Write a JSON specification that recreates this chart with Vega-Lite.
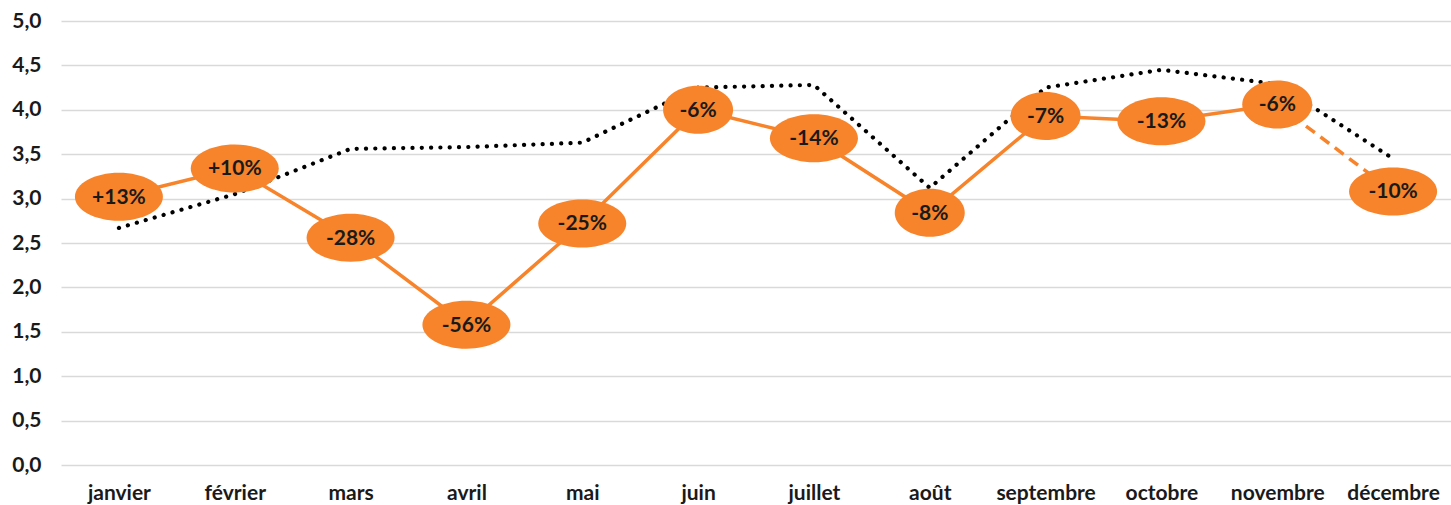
{
  "$schema": "https://vega.github.io/schema/vega-lite/v6.json",
  "width": 1390,
  "height": 444,
  "autosize": "none",
  "padding": {"left": 61, "top": 21, "right": 0, "bottom": 40},
  "background": "white",
  "config": {"view": {"stroke": null}},
  "data": {
    "values": [
      {"month": "janvier", "value": 3.02, "ref": 2.67, "label": "+13%"},
      {"month": "février", "value": 3.34, "ref": 3.05, "label": "+10%"},
      {"month": "mars", "value": 2.56, "ref": 3.56, "label": "-28%"},
      {"month": "avril", "value": 1.58, "ref": 3.58, "label": "-56%"},
      {"month": "mai", "value": 2.72, "ref": 3.63, "label": "-25%"},
      {"month": "juin", "value": 4.0, "ref": 4.25, "label": "-6%"},
      {"month": "juillet", "value": 3.68, "ref": 4.28, "label": "-14%"},
      {"month": "août", "value": 2.84, "ref": 3.12, "label": "-8%"},
      {"month": "septembre", "value": 3.93, "ref": 4.25, "label": "-7%"},
      {"month": "octobre", "value": 3.87, "ref": 4.45, "label": "-13%"},
      {"month": "novembre", "value": 4.06, "ref": 4.29, "label": "-6%"},
      {"month": "décembre", "value": 3.08, "ref": 3.45, "label": "-10%"}
    ]
  },
  "encoding": {
    "x": {
      "field": "month",
      "type": "nominal",
      "scale": {"type": "point", "padding": 0.5, "domain": ["janvier","février","mars","avril","mai","juin","juillet","août","septembre","octobre","novembre","décembre"]},
      "axis": {"title": null, "domain": false, "ticks": false, "grid": false, "labelAngle": 0, "labelFont": "Lato", "labelFontWeight": "bold", "labelFontSize": 21, "labelColor": "#1a1a1a", "labelPadding": 17, "labelOverlap": false}
    }
  },
  "layer": [
    {
      "mark": {"type": "line", "color": "#000000", "strokeWidth": 4.2, "strokeDash": [0.1, 9.2], "strokeCap": "round"},
      "encoding": {
        "y": {
          "field": "ref",
          "type": "quantitative",
          "scale": {"domain": [0, 5], "nice": false},
          "axis": {"title": null, "domain": false, "ticks": false, "values": [0, 0.5, 1, 1.5, 2, 2.5, 3, 3.5, 4, 4.5, 5], "labelExpr": "replace(format(datum.value, '.1f'), '.', ',')", "gridColor": "#d9d9d9", "gridWidth": 1.5, "labelFont": "Lato", "labelFontWeight": "bold", "labelFontSize": 21, "labelColor": "#1a1a1a", "labelPadding": 20}
        }
      }
    },
    {
      "transform": [{"filter": {"not": {"field": "month", "equal": "décembre"}}}],
      "mark": {"type": "line", "color": "#F7832B", "strokeWidth": 3.5},
      "encoding": {"y": {"field": "value", "type": "quantitative"}}
    },
    {
      "transform": [{"filter": {"field": "month", "oneOf": ["novembre", "décembre"]}}],
      "mark": {"type": "line", "color": "#F7832B", "strokeWidth": 3.5, "strokeDash": [11, 7]},
      "encoding": {"y": {"field": "value", "type": "quantitative"}}
    },
    {
      "transform": [{"filter": {"not": {"field": "label", "oneOf": ["-6%", "-7%", "-8%"]}}}],
      "mark": {"type": "point", "filled": true, "opacity": 1, "color": "#F7832B", "size": 4, "shape": "M-44,0 A44,24 0 1,1 44,0 A44,24 0 1,1 -44,0 Z"},
      "encoding": {"y": {"field": "value", "type": "quantitative"}}
    },
    {
      "transform": [{"filter": {"field": "label", "oneOf": ["-6%", "-7%", "-8%"]}}],
      "mark": {"type": "point", "filled": true, "opacity": 1, "color": "#F7832B", "size": 4, "shape": "M-35,0 A35,24 0 1,1 35,0 A35,24 0 1,1 -35,0 Z"},
      "encoding": {"y": {"field": "value", "type": "quantitative"}}
    },
    {
      "mark": {"type": "text", "font": "Lato", "fontWeight": "bold", "fontSize": 21, "color": "#1a1a1a", "align": "center", "baseline": "middle", "dy": 1},
      "encoding": {"y": {"field": "value", "type": "quantitative"}, "text": {"field": "label"}}
    }
  ]
}
